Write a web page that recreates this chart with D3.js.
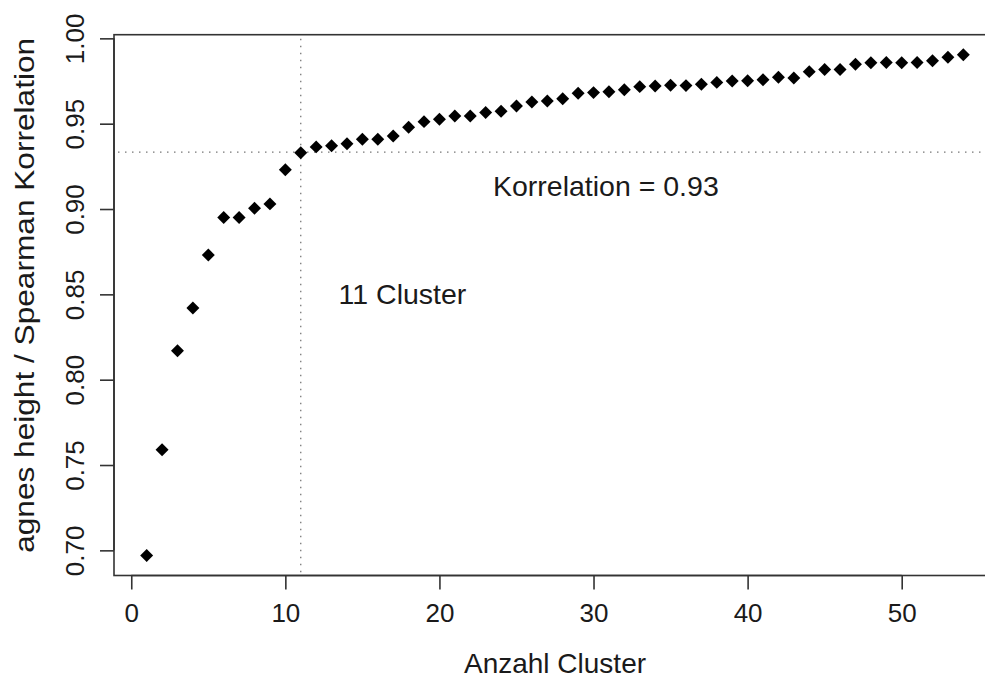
<!DOCTYPE html>
<html>
<head>
<meta charset="utf-8">
<script src="https://cdn.jsdelivr.net/npm/d3@7"></script>
<style>
  html, body { margin: 0; padding: 0; background: #fff; }
  svg { display: block; }
  text { font-family: "Liberation Sans", Arial, Helvetica, sans-serif; fill: #1a1a1a; }
</style>
</head>
<body>
<svg id="chart" width="985" height="680"></svg>
<script>
// ---- data ----
const clusters = d3.range(1, 55);
const correlation = [
  0.697, 0.759, 0.817, 0.842, 0.873, 0.895, 0.895, 0.9005, 0.903, 0.923,
  0.933, 0.9364, 0.9371, 0.9383, 0.9409, 0.9409, 0.9428, 0.9479, 0.9512, 0.9526,
  0.9545, 0.9545, 0.9565, 0.9573, 0.9604, 0.9627, 0.9633, 0.9646, 0.9678, 0.9682,
  0.9687, 0.9699, 0.9717, 0.9721, 0.9725, 0.9723, 0.9731, 0.9742, 0.975, 0.9752,
  0.9758, 0.9772, 0.9768, 0.9805, 0.9818, 0.9818, 0.9848, 0.9857, 0.9859, 0.9857,
  0.9859, 0.9869, 0.9889, 0.9904
];
const xTicks = [0, 10, 20, 30, 40, 50];
const yTicks = [0.70, 0.75, 0.80, 0.85, 0.90, 0.95, 1.00];
const chosenClusters = 11;
const chosenCorrelation = 0.9333;
const xTitle = "Anzahl Cluster";
const yTitle = "agnes height / Spearman Korrelation";
const corrLabel = "Korrelation = 0.93";
const clusterLabel = "11 Cluster";

// ---- layout ----
const svg = d3.select("#chart");
const pLeft = 114, pRight = 996, pTop = 34.7, pBottom = 575.5;

// R-style 4% padding around data range
const xmin = d3.min(clusters), xmax = d3.max(clusters);
const ymin = d3.min(correlation), ymax = d3.max(correlation);
const xpad = (xmax - xmin) * 0.04, ypad = (ymax - ymin) * 0.04;

const x = d3.scaleLinear().domain([xmin - xpad, xmax + xpad]).range([pLeft, pRight]);
const y = d3.scaleLinear().domain([ymin - ypad, ymax + ypad]).range([pBottom, pTop]);

const axisColor = "#333";

// box
svg.append("rect")
  .attr("x", pLeft).attr("y", pTop)
  .attr("width", pRight - pLeft).attr("height", pBottom - pTop)
  .attr("fill", "none").attr("stroke", axisColor).attr("stroke-width", 1.6);

// x axis
const xAxis = d3.axisBottom(x).tickValues(xTicks).tickSize(14).tickPadding(8).tickFormat(d3.format("d"));
const gx = svg.append("g").attr("transform", `translate(0,${pBottom})`).call(xAxis);
gx.select(".domain")
  .attr("d", `M${x(xTicks[0])},0H${x(xTicks[xTicks.length-1])}`)
  .attr("stroke", axisColor).attr("stroke-width", 1.6);
gx.selectAll(".tick line").attr("stroke", axisColor).attr("stroke-width", 1.6);
gx.selectAll(".tick text")
  .attr("font-size", 26).attr("font-family", "Liberation Sans, Arial, sans-serif")
  .attr("fill", "#1a1a1a").attr("dy", "0.35em").attr("y", 37);

// y axis
const yAxis = d3.axisLeft(y).tickValues(yTicks).tickSize(14).tickFormat(d3.format(".2f"));
const gy = svg.append("g").attr("transform", `translate(${pLeft},0)`).call(yAxis);
gy.select(".domain")
  .attr("d", `M0,${y(yTicks[0])}V${y(yTicks[yTicks.length-1])}`)
  .attr("stroke", axisColor).attr("stroke-width", 1.6);
gy.selectAll(".tick line").attr("stroke", axisColor).attr("stroke-width", 1.6);
gy.selectAll(".tick text")
  .attr("font-size", 26).attr("font-family", "Liberation Sans, Arial, sans-serif")
  .attr("fill", "#1a1a1a")
  .attr("x", null)
  .attr("text-anchor", "middle")
  .attr("transform", "translate(-39,0) rotate(-90)")
  .attr("dy", "0.35em");

// axis titles
svg.append("text")
  .attr("x", x(27.5)).attr("y", 663)
  .attr("text-anchor", "middle").attr("dy", "0.35em")
  .attr("font-size", 28).text(xTitle);

svg.append("text")
  .attr("transform", `translate(25,${(y(0.70) + y(1.0)) / 2 + 1}) rotate(-90)`)
  .attr("text-anchor", "middle").attr("dy", "0.35em")
  .attr("font-size", 27)
  .attr("textLength", 515).attr("lengthAdjust", "spacingAndGlyphs")
  .text(yTitle);

// clip for reference lines
svg.append("clipPath").attr("id", "plotclip")
  .append("rect").attr("x", pLeft).attr("y", pTop)
  .attr("width", pRight - pLeft).attr("height", pBottom - pTop);

const refG = svg.append("g").attr("clip-path", "url(#plotclip)");
refG.append("line")
  .attr("x1", pLeft + 4).attr("x2", pRight)
  .attr("y1", y(chosenCorrelation)).attr("y2", y(chosenCorrelation))
  .attr("stroke", "#777").attr("stroke-width", 1.3).attr("stroke-dasharray", "1.5,5.5");
refG.append("line")
  .attr("x1", x(chosenClusters)).attr("x2", x(chosenClusters))
  .attr("y1", pTop + 4).attr("y2", pBottom - 3)
  .attr("stroke", "#777").attr("stroke-width", 1.3).attr("stroke-dasharray", "1.5,5.5");

// annotations
svg.append("text")
  .attr("x", x(30.8)).attr("y", y(0.9133)).attr("dy", "0.35em")
  .attr("text-anchor", "middle").attr("font-size", 28.5).text(corrLabel);
svg.append("text")
  .attr("x", x(17.6)).attr("y", y(0.850)).attr("dy", "0.35em")
  .attr("text-anchor", "middle").attr("font-size", 28.5).text(clusterLabel);

// points (filled diamonds)
const diamond = d3.symbol().type(d3.symbolSquare).size(84);
svg.append("g").selectAll("path")
  .data(clusters.map((c, i) => ({ c, v: correlation[i] })))
  .join("path")
  .attr("d", diamond)
  .attr("transform", d => `translate(${x(d.c)},${y(d.v)}) rotate(45)`)
  .attr("fill", "#000");
</script>
</body>
</html>
